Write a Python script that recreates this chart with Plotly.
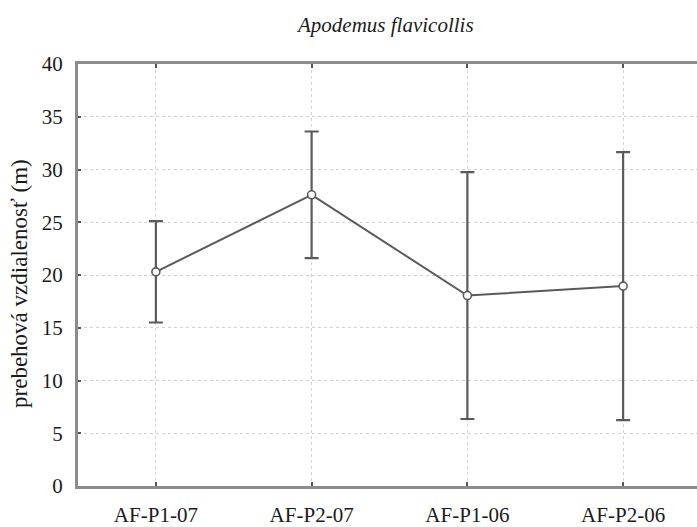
import plotly.graph_objects as go

# Mean run distance per site/season with symmetric error bars
categories = ["AF-P1-07", "AF-P2-07", "AF-P1-06", "AF-P2-06"]
means = [20.3, 27.6, 18.05, 18.95]
errors = [4.8, 6.0, 11.7, 12.7]
y_ticks = [0, 5, 10, 15, 20, 25, 30, 35, 40]

W, H = 697, 527
L, T, B = 78, 64, 39

line_col = "#5a5a5a"
axis_col = "#8c8c8c"
grid_col = "#d2d2d2"
serif = "Liberation Serif"

fig = go.Figure()
fig.add_trace(go.Scatter(
    x=list(range(len(categories))),
    y=means,
    mode="lines+markers",
    line=dict(color=line_col, width=2),
    marker=dict(symbol="circle", size=8, color="white",
                line=dict(color=line_col, width=1.6)),
    error_y=dict(type="data", array=errors, visible=True,
                 color=line_col, thickness=2.2, width=7),
    showlegend=False,
))

fig.update_layout(
    width=W, height=H,
    margin=dict(l=L, r=0, t=T, b=B),
    paper_bgcolor="white", plot_bgcolor="white",
    font=dict(family=serif, color="#1a1a1a", size=21),
    annotations=[
        dict(text="<i>Apodemus flavicollis</i>", xref="paper", yref="paper",
             x=(385 - L) / (W - L), y=1 + (T - 25) / (H - T - B),
             xanchor="center", yanchor="middle", showarrow=False,
             font=dict(family=serif, size=21, color="#1a1a1a")),
        dict(text="prebehová vzdialenosť (m)", xref="paper", yref="paper",
             x=-(L - 20) / (W - L), y=(H - B - 285) / (H - T - B),
             xanchor="center", yanchor="middle", textangle=-90,
             showarrow=False,
             font=dict(family=serif, size=23, color="#1a1a1a")),
    ],
)

fig.update_xaxes(
    range=[-0.5, 3 + (W - 623) / 156],
    tickmode="array",
    tickvals=list(range(len(categories))),
    ticktext=categories,
    showline=True, linecolor=axis_col, linewidth=3, mirror="ticks",
    ticks="inside", ticklen=4, tickcolor="#555", tickwidth=1.5,
    showgrid=True, gridcolor=grid_col, gridwidth=1, griddash="3px,3px",
    zeroline=False,
    ticklabelstandoff=8,
    tickfont=dict(family=serif, size=21, color="#1a1a1a"),
)
fig.update_yaxes(
    range=[0, 40],
    tickmode="array",
    tickvals=y_ticks,
    ticktext=[str(v) for v in y_ticks],
    showline=True, linecolor=axis_col, linewidth=3, mirror=False,
    ticks="inside", ticklen=3, tickcolor="#555", tickwidth=1.5,
    showgrid=True, gridcolor=grid_col, gridwidth=1, griddash="3px,3px",
    zeroline=False,
    ticklabelstandoff=8,
    tickfont=dict(family=serif, size=21, color="#1a1a1a"),
)

fig.write_html("out.html")
